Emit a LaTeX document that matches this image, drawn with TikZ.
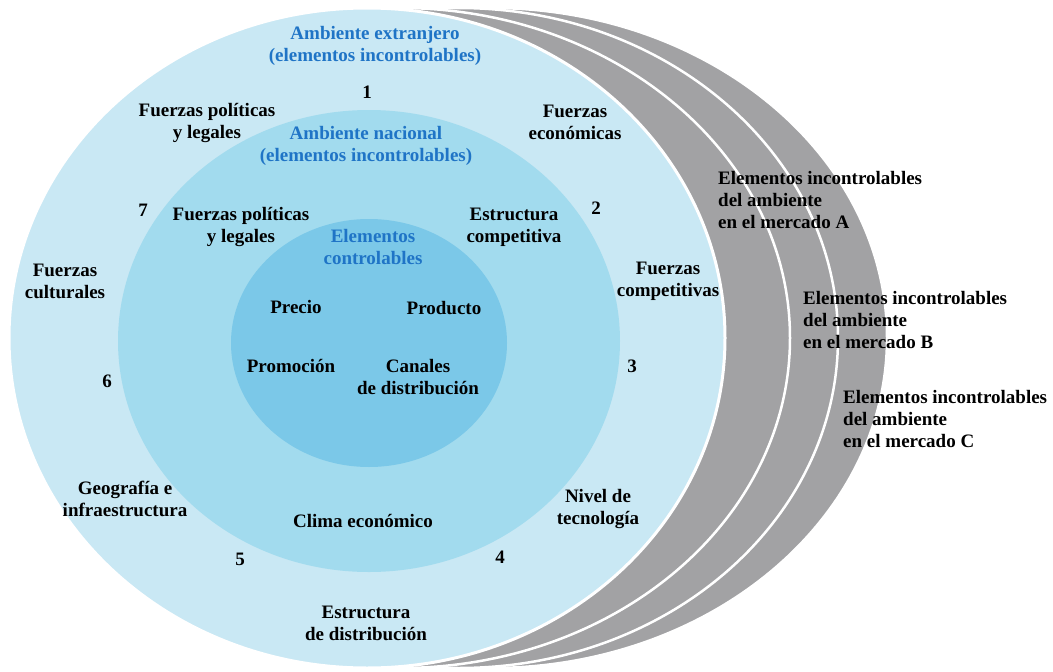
\documentclass[tikz,border=0pt]{standalone}
\usepackage{fontspec}
\setmainfont{Liberation Serif}[BoldFont={Liberation Serif Bold}]
\newfontfamily\lblfont{Liberation Serif}[BoldFont={Liberation Serif Bold}]
\definecolor{outerblue}{HTML}{C9E8F4}
\definecolor{midblue}{HTML}{A2DBEE}
\definecolor{innerblue}{HTML}{7BC8E8}
\definecolor{grayring}{HTML}{A2A2A4}
\definecolor{labelblue}{HTML}{1F74C6}
\begin{document}
\begin{tikzpicture}[x=1pt,y=-1pt,
  lbl/.style={font=\lblfont\bfseries\fontsize{19}{22}\selectfont, align=center, inner sep=0pt},
  blbl/.style={lbl, text=labelblue},
  rlbl/.style={lbl, align=left, anchor=west},
  ring/.style={fill=grayring, draw=white, line width=2.5pt}]
\useasboundingbox (0,0) rectangle (1053,672);
\fill[white] (0,0) rectangle (1053,672);
% gray market ellipses
\filldraw[ring] (491,338) ellipse [x radius=396pt, y radius=330pt];
\filldraw[ring] (459,338) ellipse [x radius=379pt, y radius=330pt];
\filldraw[ring] (400,338) ellipse [x radius=390pt, y radius=330pt];
% blue circles
\filldraw[fill=outerblue, draw=white, line width=3pt] (367,338) ellipse [x radius=358pt, y radius=330pt];
\fill[midblue] (369,341) ellipse [x radius=251pt, y radius=231pt];
\fill[innerblue] (369,343) ellipse [x radius=138pt, y radius=124pt];
% labels
\node[blbl] (ext) at (375,46) {Ambiente extranjero\\(elementos incontrolables)};
\node[lbl] (n1) at (367,92) {1};
\node[lbl] (polA) at (207,123) {Fuerzas políticas\\y legales};
\node[lbl] (eco) at (575,122) {Fuerzas\\económicas};
\node[blbl] (nac) at (366,146) {Ambiente nacional\\(elementos incontrolables)};
\node[lbl] (n7) at (143,210) {7};
\node[lbl] (polB) at (241,227) {Fuerzas políticas\\y legales};
\node[blbl] (ctrl) at (373,247) {Elementos\\controlables};
\node[lbl] (estc) at (514,227) {Estructura\\competitiva};
\node[lbl] (n2) at (596,208) {2};
\node[lbl] (cult) at (65,281) {Fuerzas\\culturales};
\node[lbl] (comp) at (668,281) {Fuerzas\\competitivas};
\node[lbl] (precio) at (296,307) {Precio};
\node[lbl] (producto) at (444,308) {Producto};
\node[lbl] (promo) at (291,366) {Promoción};
\node[lbl] (canales) at (418,377) {Canales\\de distribución};
\node[lbl] (n3) at (632,366) {3};
\node[lbl] (n6) at (107,381) {6};
\node[lbl] (geo) at (125,499) {Geografía e\\infraestructura};
\node[lbl] (nivel) at (598,509) {Nivel de\\tecnología};
\node[lbl] (clima) at (363,521) {Clima económico};
\node[lbl] (n5) at (240,559) {5};
\node[lbl] (n4) at (500,557) {4};
\node[lbl] (estd) at (366,623) {Estructura\\de distribución};
\node[rlbl] (mA) at (718,200) {Elementos incontrolables\\del ambiente\\en el mercado A};
\node[rlbl] (mB) at (803,320) {Elementos incontrolables\\del ambiente\\en el mercado B};
\node[rlbl] (mC) at (843,419) {Elementos incontrolables\\del ambiente\\en el mercado C};
\end{tikzpicture}
\end{document}
